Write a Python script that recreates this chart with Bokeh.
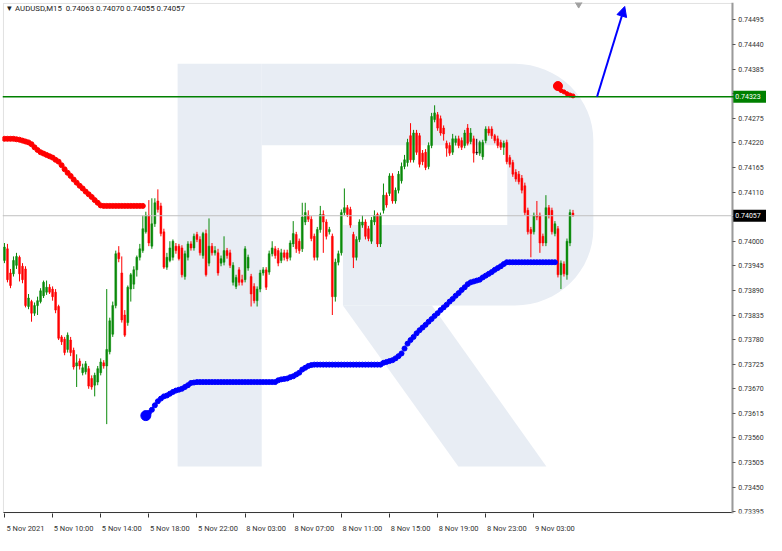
from bokeh.plotting import figure
from bokeh.models import (FixedTicker, PrintfTickFormatter, Span, Label, Arrow,
                          NormalHead, ColumnDataSource, LinearAxis, BoxAnnotation)
from bokeh.embed import file_html
from bokeh.resources import INLINE
import math

# ---------------- data ----------------
symbol_title = "\u25bc AUDUSD,M15 \u00a00.74063 0.74070 0.74055 0.74057"

opens = [
.73957, .73983, .73929, .73927, .73946, .73964, .73944, .73938, .73854, .73865,
.73839, .73856, .73865, .73878, .73886, .73897, .73893, .73886, .73854, .73786,
.73781, .73758, .73779, .73756, .73721, .73732, .73706, .73708, .73715, .73693,
.73678, .73685, .73706, .73728, .73721, .73753, .73792, .73856, .73974, .73929,
.73835, .73818, .73893, .73904, .73936, .73964, .73979, .74021, .74058, .73989,
.74039, .74090, .74079, .74021, .73942, .73957, .73964, .73989, .73989, .73985,
.73921, .73964, .73994, .73985, .74015, .74004, .73968, .74017, .73951, .73989,
.73974, .73974, .73951, .73953, .73979, .73974, .73908, .73899, .73936, .73914,
.73914, .73940, .73921, .73899, .73867, .73893, .73929, .73936, .73931, .73972,
.73983, .73979, .73957, .73974, .73974, .73964, .73994, .74015, .74000, .73983,
.74043, .74058, .74049, .74011, .73964, .74026, .74060, .74043, .74021, .74011,
.73876, .73953, .73974, .74064, .74075, .74071, .74015, .73964, .74004, .74036,
.74043, .74028, .74000, .74043, .74060, .73994, .74069, .74103, .74107, .74146,
.74090, .74114, .74135, .74167, .74176, .74236, .74182, .74242, .74236, .74197,
.74199, .74167, .74214, .74272, .74283, .74274, .74253, .74219, .74214, .74199,
.74221, .74229, .74225, .74214, .74253, .74223, .74229, .74199, .74197, .74189,
.74225, .74251, .74251, .74236, .74229, .74221, .74210, .74221, .74187, .74176,
.74154, .74150, .74141, .74124, .74069, .74026, .74021, .74058, .74058, .74011,
.73996, .74075, .74069, .74017, .74028, .73925, .73949, .73925, .73996, .74063,
]
highs = [
.73996, .73994, .73938, .73966, .73974, .73968, .73951, .73944, .73882, .73869,
.73863, .73876, .73895, .73912, .73912, .73904, .73899, .73893, .73858, .73790,
.73786, .73796, .73786, .73762, .73747, .73738, .73726, .73732, .73721, .73700,
.73706, .73721, .73738, .73734, .73893, .73829, .73865, .73979, .73989, .73966,
.73846, .73901, .73929, .73944, .73968, .73994, .74058, .74066, .74092, .74096,
.74096, .74116, .74086, .74028, .73974, .74000, .74004, .73996, .73994, .73991,
.73979, .74000, .74000, .74017, .74021, .74011, .74021, .74026, .74051, .73996,
.73989, .73983, .73968, .74011, .73985, .73981, .73953, .73925, .73942, .73925,
.73989, .73970, .73927, .73906, .73899, .73936, .73942, .73942, .73979, .74000,
.73989, .73985, .73983, .73981, .73981, .74002, .74045, .74021, .74006, .74086,
.74086, .74069, .74056, .74017, .74032, .74079, .74069, .74049, .74032, .74017,
.73961, .73979, .74071, .74118, .74081, .74077, .74021, .74011, .74049, .74058,
.74049, .74034, .74054, .74069, .74064, .74064, .74129, .74109, .74152, .74152,
.74120, .74157, .74176, .74193, .74229, .74264, .74249, .74249, .74242, .74204,
.74206, .74221, .74287, .74304, .74289, .74281, .74259, .74225, .74221, .74240,
.74236, .74236, .74232, .74249, .74262, .74253, .74236, .74229, .74225, .74227,
.74257, .74257, .74257, .74240, .74236, .74227, .74225, .74227, .74193, .74182,
.74161, .74157, .74148, .74131, .74075, .74032, .74064, .74090, .74064, .74017,
.74103, .74081, .74075, .74045, .74034, .73957, .73955, .74006, .74071, .74070,
]
lows = [
.73951, .73908, .73895, .73921, .73938, .73910, .73906, .73852, .73848, .73820,
.73833, .73835, .73861, .73873, .73880, .73882, .73867, .73839, .73779, .73768,
.73745, .73751, .73743, .73713, .73674, .73713, .73700, .73702, .73670, .73668,
.73653, .73678, .73700, .73715, .73591, .73747, .73786, .73850, .73953, .73818,
.73786, .73811, .73865, .73893, .73921, .73957, .73974, .74017, .73989, .73983,
.74032, .74064, .74011, .73938, .73936, .73953, .73957, .73972, .73957, .73919,
.73914, .73957, .73979, .73979, .73998, .73968, .73961, .73921, .73944, .73968,
.73968, .73923, .73944, .73946, .73961, .73940, .73901, .73893, .73901, .73901,
.73908, .73934, .73854, .73861, .73854, .73886, .73923, .73891, .73925, .73966,
.73961, .73944, .73951, .73957, .73955, .73957, .73987, .73974, .73972, .73976,
.74036, .74043, .74000, .73957, .73957, .74019, .73974, .74004, .74015, .73835,
.73865, .73946, .73968, .74058, .74054, .74030, .73940, .73957, .73998, .74030,
.74004, .74000, .73994, .74036, .73987, .73987, .74062, .74075, .74101, .74084,
.74084, .74107, .74129, .74161, .74167, .74176, .74176, .74193, .74165, .74170,
.74159, .74161, .74208, .74266, .74247, .74236, .74225, .74189, .74191, .74193,
.74214, .74208, .74204, .74208, .74214, .74217, .74176, .74193, .74191, .74182,
.74219, .74236, .74229, .74219, .74208, .74204, .74193, .74172, .74165, .74144,
.74133, .74127, .74107, .74058, .74015, .73964, .74015, .74047, .73974, .73989,
.73989, .74051, .74015, .74011, .73919, .73893, .73921, .73914, .73989, .74055,
]
closes = [
.73987, .73914, .73901, .73957, .73966, .73927, .73914, .73856, .73873, .73839,
.73856, .73867, .73889, .73908, .73897, .73886, .73876, .73846, .73783, .73775,
.73751, .73790, .73751, .73719, .73728, .73721, .73717, .73726, .73676, .73674,
.73700, .73715, .73730, .73721, .73758, .73822, .73856, .73972, .73961, .73824,
.73790, .73897, .73925, .73936, .73964, .73983, .74028, .74058, .73996, .74039,
.74086, .74071, .74017, .73942, .73964, .73985, .74000, .73979, .73961, .73925,
.73972, .73994, .73985, .74011, .74004, .73974, .74017, .73925, .73989, .73974,
.73979, .73929, .73961, .73979, .73968, .73946, .73946, .73919, .73908, .73908,
.73983, .73964, .73882, .73867, .73893, .73929, .73936, .73897, .73972, .73985,
.73968, .73951, .73974, .73964, .73961, .73996, .74017, .73983, .73979, .74054,
.74064, .74049, .74006, .73964, .74026, .74060, .74043, .74011, .74026, .73876,
.73953, .73972, .74064, .74075, .74060, .74036, .73964, .74004, .74043, .74043,
.74011, .74006, .74047, .74058, .73994, .74058, .74103, .74081, .74146, .74090,
.74114, .74150, .74167, .74182, .74221, .74182, .74242, .74199, .74172, .74178,
.74165, .74214, .74279, .74287, .74253, .74242, .74240, .74208, .74197, .74229,
.74229, .74214, .74210, .74242, .74219, .74242, .74197, .74199, .74221, .74221,
.74251, .74242, .74236, .74225, .74214, .74210, .74219, .74178, .74172, .74150,
.74139, .74133, .74114, .74064, .74021, .74017, .74058, .74054, .73996, .73996,
.74075, .74058, .74021, .74039, .73925, .73951, .73927, .74000, .74064, .74057,
]

# trailing stop dots (bar index of first dot + values)
red_stop_start = 0
red_stop = [
.74229, .74229, .74229, .74229, .74228, .74227, .74225, .74223, .74221, .74217,
.74210, .74204, .74199, .74196, .74193, .74190, .74187, .74182, .74178, .74170,
.74161, .74153, .74146, .74138, .74131, .74124, .74118, .74111, .74105, .74099,
.74092, .74086, .74080, .74079, .74079, .74079, .74079, .74079, .74079, .74079,
.74079, .74079, .74079, .74079, .74079, .74079, .74079,
]
blue_stop_start = 47
blue_stop = [
.73610, .73616, .73623, .73633, .73642, .73648, .73653, .73655, .73659, .73663,
.73666, .73668, .73670, .73674, .73678, .73683, .73684, .73685, .73685, .73685,
.73685, .73685, .73685, .73685, .73685, .73685, .73685, .73685, .73685, .73685,
.73685, .73685, .73685, .73685, .73685, .73685, .73685, .73685, .73685, .73685,
.73685, .73685, .73685, .73685, .73689, .73691, .73692, .73693, .73696, .73698,
.73702, .73706, .73713, .73717, .73721, .73723, .73724, .73724, .73724, .73724,
.73724, .73724, .73724, .73724, .73724, .73724, .73724, .73724, .73724, .73724,
.73724, .73724, .73724, .73724, .73724, .73724, .73724, .73724, .73724, .73728,
.73730, .73732, .73734, .73738, .73743, .73749, .73760, .73771, .73779, .73786,
.73794, .73801, .73807, .73813, .73820, .73826, .73833, .73839, .73846, .73852,
.73858, .73865, .73871, .73878, .73884, .73891, .73897, .73904, .73908, .73910,
.73912, .73914, .73919, .73923, .73927, .73931, .73936, .73940, .73944, .73949,
.73953, .73953, .73953, .73953, .73953, .73953, .73953, .73953, .73953, .73953,
.73953, .73953, .73953, .73953, .73953, .73953, .73953,
]
red_stop2_start = 184
red_stop2 = [.74347, .74337, .74334, .74330, .74327, .74325]

resistance_level = 0.74323
bid_price = 0.74057
forecast_x = [197.0, 206.2]
forecast_y = [0.74323, 0.74525]

x_tick_bars = [0, 16, 32, 48, 64, 80, 96, 112, 128, 144, 160, 176]
x_tick_labels = ["5 Nov 2021", "5 Nov 10:00", "5 Nov 14:00", "5 Nov 18:00",
                 "5 Nov 22:00", "8 Nov 03:00", "8 Nov 07:00", "8 Nov 11:00",
                 "8 Nov 15:00", "8 Nov 19:00", "8 Nov 23:00", "9 Nov 03:00"]
y_ticks = [0.73395, 0.73450, 0.73505, 0.73560, 0.73615, 0.73670, 0.73725,
           0.73780, 0.73835, 0.73890, 0.73945, 0.74000, 0.74055, 0.74110,
           0.74165, 0.74220, 0.74275, 0.74330, 0.74385, 0.74440, 0.74495]

# ---------------- helpers for decoration placement ----------------
def px_x(px):
    return (px - 3.0) / 3.075

def px_y(py):
    return (74536 - 2.144 * py) / 1e5

FONT = "Roboto"
GREEN = "#0a8a0a"
RED = "#ff0000"

p = figure(width=766, height=535, x_range=(px_x(1), px_x(782)),
           y_range=(px_y(534), px_y(1)), y_axis_location="right",
           output_backend="svg", toolbar_location=None,
           min_border_left=2, min_border_top=2, min_border_right=0,
           min_border_bottom=0)
p.xgrid.visible = False
p.ygrid.visible = False
p.outline_line_color = None
p.background_fill_color = "white"
p.border_fill_color = "white"

# ---------------- watermark "R" ----------------
def arc(cx, cy, r, a0, a1, n=16):
    pts = []
    for k in range(n + 1):
        t = math.radians(a0 + (a1 - a0) * k / n)
        pts.append((cx + r * math.cos(t), cy + r * math.sin(t)))
    return pts

stem = [(180, 65), (266, 65), (266, 485), (180, 485)]
bowl = ([(266, 65)] + arc(525, 145, 80, -90, 0) + arc(525, 237, 80, 0, 90)
        + [(349, 317), (349, 233), (517, 233), (517, 150), (266, 150)])
leg = [(349, 317), (440, 317), (557, 485), (467, 485)]
shapes = [stem, bowl, leg]
p.patches(xs=[[px_x(a) for a, b in s] for s in shapes],
          ys=[[px_y(b) for a, b in s] for s in shapes],
          fill_color="#e8edf4", line_color=None, level="underlay")

# chart border (left/top gray, bottom dark)
p.add_layout(BoxAnnotation(left=px_x(2), right=px_x(747), bottom=px_y(533),
                           top=px_y(2), fill_color=None, line_color="#9a9a9a",
                           line_width=1, level="underlay"))
p.segment(x0=[px_x(2)], y0=[px_y(533)], x1=[px_x(747)], y1=[px_y(533)],
          line_color="#333333", line_width=1)

# ---------------- lines ----------------
p.add_layout(Span(location=bid_price, dimension="width", line_color="#c0c0c0",
                  line_width=1))
p.add_layout(Span(location=resistance_level, dimension="width",
                  line_color="#008000", line_width=1.6))

# ---------------- candles ----------------
n = len(closes)
idx = list(range(n))
colors = [GREEN if c > o else (RED if c < o else "#000000")
          for o, c in zip(opens, closes)]
src = ColumnDataSource(dict(
    x=idx, o=opens, h=highs, l=lows, c=closes,
    top=[max(o, c) for o, c in zip(opens, closes)],
    bot=[min(o, c) - (0.000012 if o == c else 0) for o, c in zip(opens, closes)],
    col=colors))
p.segment(x0="x", y0="h", x1="x", y1="l", source=src, line_color="col",
          line_width=1)
p.vbar(x="x", top="top", bottom="bot", width=0.62, source=src,
       fill_color="col", line_color="col", line_width=0.5)

# ---------------- trailing dots ----------------
p.scatter(x=list(range(red_stop_start, red_stop_start + len(red_stop))),
          y=red_stop, size=5, color=RED)
p.scatter(x=list(range(blue_stop_start, blue_stop_start + len(blue_stop))),
          y=blue_stop, size=5, color="#0000ff")
p.scatter(x=[blue_stop_start], y=[blue_stop[0]], size=10, color="#0000ff")
p.scatter(x=list(range(red_stop2_start, red_stop2_start + len(red_stop2))),
          y=red_stop2, size=4, color=RED)
p.scatter(x=[red_stop2_start], y=[red_stop2[0]], size=9, color=RED)

# forecast arrow
p.add_layout(Arrow(end=NormalHead(size=10, fill_color="#0000ff",
                                  line_color="#0000ff"),
                   x_start=forecast_x[0], y_start=forecast_y[0],
                   x_end=forecast_x[1], y_end=forecast_y[1],
                   line_color="#0000ff", line_width=2))

# chart shift marker
p.scatter(x=[px_x(590)], y=[px_y(2)], marker="inverted_triangle", size=8,
          color="#a0a0a0")

# ---------------- axes ----------------
ya = p.yaxis[0]
ya.fixed_location = px_x(747)
ya.ticker = FixedTicker(ticks=y_ticks)
ya.formatter = PrintfTickFormatter(format="%.5f")
ya.axis_line_color = "#9a9a9a"
ya.axis_line_width = 2
ya.major_tick_out = 3
ya.major_tick_in = 0
ya.minor_tick_line_color = None
ya.major_tick_line_color = "#555555"
ya.major_label_standoff = 3
ya.major_label_text_font = FONT
ya.major_label_text_font_size = "7px"
ya.major_label_text_color = "#333333"

# bottom axis: tick marks only
xa = p.xaxis[0]
xa.ticker = FixedTicker(ticks=x_tick_bars)
xa.axis_line_color = None
xa.major_tick_out = 4
xa.major_tick_in = 0
xa.minor_tick_line_color = None
xa.major_tick_line_color = "#333333"
xa.major_label_standoff = 0
xa.major_label_text_font_size = "1px"
xa.major_label_text_alpha = 0

# second bottom axis: labels that start at the tick (shifted by half a label)
label_shift = 7
xl = LinearAxis(ticker=FixedTicker(ticks=[b + label_shift for b in x_tick_bars]),
                major_label_overrides={b + label_shift: t
                                       for b, t in zip(x_tick_bars, x_tick_labels)},
                axis_line_color=None, major_tick_line_color=None,
                minor_tick_line_color=None, major_label_standoff=0,
                major_label_text_font=FONT, major_label_text_font_size="7.5px",
                major_label_text_color="#333333")
p.add_layout(xl, "below")

# ---------------- texts ----------------
p.add_layout(Label(x=px_x(4), y=px_y(3), text=symbol_title,
                   text_font=FONT, text_font_size="7.8px", text_color="#222222",
                   text_baseline="top", text_align="left"))
for lvl, bg in ((resistance_level, "#008000"), (bid_price, "#000000")):
    p.add_layout(Label(x=px_x(747), y=lvl, x_offset=1,
                       text=" %.5f " % lvl, text_font=FONT,
                       text_font_size="7px", text_color="white",
                       text_baseline="middle", text_align="left",
                       background_fill_color=bg, padding=2))

open("out.html", "w").write(file_html(p, INLINE))
